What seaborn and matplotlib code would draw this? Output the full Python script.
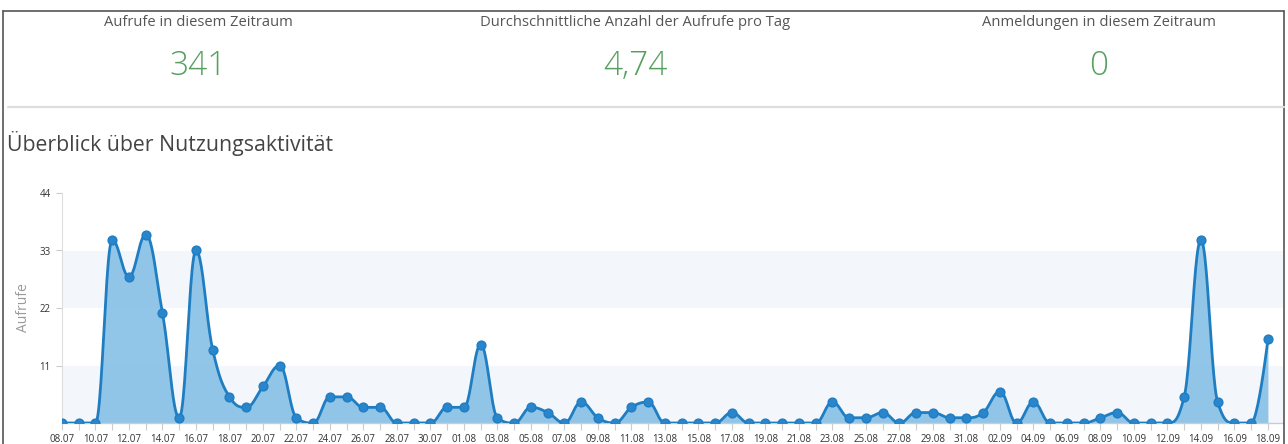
import numpy as np
import pandas as pd
import matplotlib
matplotlib.use('Agg')
import matplotlib.pyplot as plt
from matplotlib.lines import Line2D
import seaborn as sns

# Daten: Aufrufe pro Tag, 08.07 bis 18.09
start_day = "2023-07-08"
end_day = "2023-09-18"
aufrufe = [0, 0, 0, 35, 28, 36, 21, 1, 33, 14, 5, 3, 7, 11, 1, 0,
           5, 5, 3, 3, 0, 0, 0, 3, 3, 15, 1, 0, 3, 2, 0, 4, 1, 0,
           3, 4, 0, 0, 0, 0, 2, 0, 0, 0, 0, 0, 4, 1, 1, 2, 0, 2,
           2, 1, 1, 2, 6, 0, 4, 0, 0, 0, 1, 2, 0, 0, 0, 5, 35, 4,
           0, 0, 16]

kpi_titles = ["Aufrufe in diesem Zeitraum",
              "Durchschnittliche Anzahl der Aufrufe pro Tag",
              "Anmeldungen in diesem Zeitraum"]
kpi_values = ["341", "4,74", "0"]

y_ticks = [11, 22, 33, 44]

LINE = "#1f7dc2"
FILL = "#8cc3e8"
GREEN = "#55a05f"


def spline_points(x, y, smoothing=1.5, steps=24):
    """Glatte Kurve wie ein Areaspline (Bezier mit begrenzten Kontrollpunkten)."""
    n = len(x)
    denom = smoothing + 1
    lc = [(x[i], y[i]) for i in range(n)]
    rc = [(x[i], y[i]) for i in range(n)]
    for i in range(1, n - 1):
        px, py = x[i], y[i]
        lx, ly = x[i - 1], y[i - 1]
        nx, ny = x[i + 1], y[i + 1]
        lcx = (smoothing * px + lx) / denom
        lcy = (smoothing * py + ly) / denom
        rcx = (smoothing * px + nx) / denom
        rcy = (smoothing * py + ny) / denom
        corr = (rcy - lcy) * (rcx - px) / (rcx - lcx) + py - rcy
        lcy += corr
        rcy += corr
        if lcy > ly and lcy > py:
            lcy = max(ly, py); rcy = 2 * py - lcy
        elif lcy < ly and lcy < py:
            lcy = min(ly, py); rcy = 2 * py - lcy
        if rcy > ny and rcy > py:
            rcy = max(ny, py); lcy = 2 * py - rcy
        elif rcy < ny and rcy < py:
            rcy = min(ny, py); lcy = 2 * py - rcy
        lc[i] = (lcx, lcy)
        rc[i] = (rcx, rcy)
    t = np.linspace(0, 1, steps)
    xs, ys = [x[0]], [y[0]]
    for i in range(1, n):
        p0 = np.array([x[i - 1], y[i - 1]])
        p1 = np.array(rc[i - 1])
        p2 = np.array(lc[i])
        p3 = np.array([x[i], y[i]])
        tt = t[1:, None]
        pts = ((1 - tt) ** 3) * p0 + 3 * ((1 - tt) ** 2) * tt * p1 \
            + 3 * (1 - tt) * tt ** 2 * p2 + tt ** 3 * p3
        xs.extend(pts[:, 0]); ys.extend(pts[:, 1])
    return np.array(xs), np.array(ys)


def main():
    sns.set_theme(style="white")
    plt.rcParams['font.family'] = ['Open Sans', 'DejaVu Sans']

    dates = pd.date_range(start_day, end_day, freq="D")
    df = pd.DataFrame({"tag": np.arange(len(dates)), "aufrufe": aufrufe,
                       "label": dates.strftime("%d.%m")})

    W, H = 1288, 444
    fig = plt.figure(figsize=(W / 100, H / 100), dpi=100)
    fig.patch.set_facecolor("white")

    def fx(px):
        return px / W

    def fy(py):
        return 1 - py / H

    # Rahmen und Trennlinie
    fig.add_artist(Line2D([fx(3), fx(1284)], [fy(11), fy(11)], color="#555555", lw=1.2))
    fig.add_artist(Line2D([fx(3), fx(3)], [fy(11), fy(444)], color="#555555", lw=1.2))
    fig.add_artist(Line2D([fx(1284), fx(1284)], [fy(11), fy(444)], color="#555555", lw=1.2))
    fig.add_artist(Line2D([fx(8), fx(1284)], [fy(107), fy(107)], color="#dddddd", lw=1.6))

    # KPI-Kacheln
    for cx, title, val in zip([198, 635, 1099], kpi_titles, kpi_values):
        fig.text(fx(cx), fy(22), title, ha="center", va="center",
                 fontsize=10.6, color="#555555")
        fig.text(fx(cx), fy(66), val, ha="center", va="center",
                 fontsize=24, color=GREEN, fontweight="light")

    fig.text(fx(7), fy(143), "Überblick über Nutzungsaktivität", ha="left", va="center",
             fontsize=15.3, color="#444444")

    # Diagramm
    ax = fig.add_axes([fx(62), fy(423), (1283 - 62) / W, (423 - 193) / H])
    ax.axhspan(0, 11, color="#f3f6fa", zorder=0, lw=0)
    ax.axhspan(22, 33, color="#f3f6fa", zorder=0, lw=0)

    xs, ys = spline_points(df["tag"].to_numpy(float), df["aufrufe"].to_numpy(float))
    ax.fill_between(xs, 0, ys, color=FILL, alpha=0.95, lw=0, zorder=2)
    sns.lineplot(x=xs, y=ys, sort=False, color=LINE, lw=2, ax=ax, zorder=3)
    sns.scatterplot(data=df, x="tag", y="aufrufe", color="#2a86cc", edgecolor=LINE,
                    s=40, linewidth=1, ax=ax, zorder=4)

    ax.set_xlim(0, 72.9)
    ax.set_ylim(0, 44)
    ax.set_xticks(df["tag"])
    ax.set_xticklabels([lab if i % 2 == 0 else "" for i, lab in enumerate(df["label"])],
                       fontsize=7, color="#333333")
    ax.set_yticks(y_ticks)
    ax.set_yticklabels([str(v) for v in y_ticks], fontsize=7, color="#333333")
    ax.tick_params(axis="x", length=5, width=0.8, color="#cccccc", pad=3, bottom=True)
    ax.tick_params(axis="y", length=4, width=0.8, color="#cccccc", pad=4, left=True)
    ax.set_xlabel("")
    ax.set_ylabel("Aufrufe", fontsize=10, color="#999999", labelpad=6)

    for side in ["top", "right"]:
        ax.spines[side].set_visible(False)
    ax.spines["left"].set_color("#dddddd")
    ax.spines["left"].set_linewidth(0.8)
    ax.spines["bottom"].set_color("#cccccc")
    ax.spines["bottom"].set_linewidth(1)

    fig.savefig("out.png", dpi=100)
    plt.close(fig)


if __name__ == '__main__':
    main()
